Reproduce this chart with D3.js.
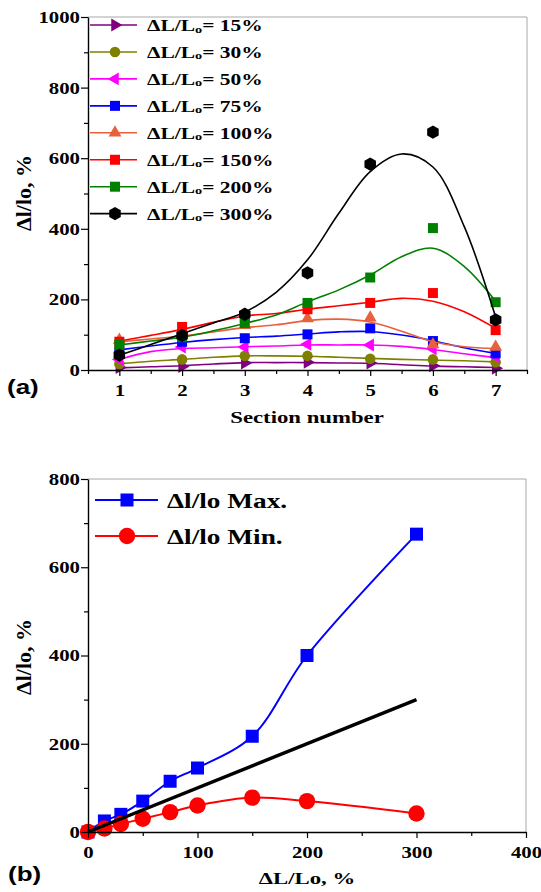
<!DOCTYPE html>
<html><head><meta charset="utf-8">
<script src="https://cdn.jsdelivr.net/npm/d3@7"></script>
<style>body{margin:0;background:#fff}</style>
</head><body>
<svg id="c" width="541" height="892" xmlns="http://www.w3.org/2000/svg"></svg>
<script>
// ---------- DATA (panel a) ----------
const sections = [1, 2, 3, 4, 5, 6, 7];
const seriesNames = ["15%", "30%", "50%", "75%", "100%", "150%", "200%", "300%"];
const seriesColors = ["#800080", "#808000", "#FF00FF", "#0000FF", "#E8603C", "#FF0000", "#008000", "#000000"];
const seriesSymbols = ["triRight", "circle", "triLeft", "square", "triUp", "square", "square", "hexagon"];
const v15  = [7, 10, 20, 22, 20, 12, 5];
const v30  = [17, 30, 40, 40, 32, 30, 22];
const v50  = [30, 65, 65, 73, 71, 60, 38];
const v75  = [52, 80, 90, 101, 118, 82, 47];
const v100 = [85, 97, 127, 146, 148, 72, 65];
const v150 = [80, 122, 148, 172, 190, 218, 113];
const v200 = [71, 93, 133, 190, 262, 402, 192];
const v300 = [42, 98, 158, 275, 583, 674, 142];
// fitted (smoothed) curves
const fitX   = [1, 1.5, 2, 2.5, 3, 3.5, 4, 4.5, 5, 5.5, 6, 6.5, 7];
const fit15  = [6, 9, 12, 17, 21, 21, 21, 20, 19, 15, 11, 9, 7];
const fit30  = [18, 25, 30, 36, 40, 40, 39, 36, 33, 30, 28, 26, 23];
const fit50  = [30, 52, 61, 63, 66, 68, 71, 71, 71, 67, 58, 46, 35];
const fit75  = [57, 68, 78, 86, 92, 96, 102, 108, 109, 99, 83, 63, 47];
const fit100 = [80, 88, 96, 108, 120, 128, 140, 144, 136, 110, 80, 66, 61];
const fit150 = [82, 98, 115, 135, 153, 160, 172, 182, 192, 203, 195, 165, 118];
const fit200 = [71, 82, 93, 111, 132, 156, 193, 227, 269, 321, 345, 293, 195];
const fit300 = [42, 72, 103, 133, 164, 220, 312, 444, 562, 612, 575, 406, 150];
const topYTicks = [0, 200, 400, 600, 800, 1000];
const topYMinor = [100, 300, 500, 700, 900];
const topXMinor = [0.5, 1.5, 2.5, 3.5, 4.5, 5.5, 6.5, 7.5];

// ---------- DATA (panel b) ----------
const elong = [0, 15, 30, 50, 75, 100, 150, 200, 300];
const maxVals = [0, 25, 40, 70, 115, 145, 217, 400, 675];
const minVals = [0, 8, 18, 30, 45, 60, 78, 70, 42];
const refX = [0, 300];
const refY = [0, 300];
const botXTicks = [0, 100, 200, 300, 400];
const botXMinor = [50, 150, 250, 350];
const botYTicks = [0, 200, 400, 600, 800];
const botYMinor = [100, 300, 500, 700];

const seriesVals = [v15, v30, v50, v75, v100, v150, v200, v300];
const seriesFits = [fit15, fit30, fit50, fit75, fit100, fit150, fit200, fit300];

// ---------- DRAW ----------
const svg = d3.select("#c");
const SERIF = "'Liberation Serif','Times New Roman',serif";
const SX = 1.3;
const plain = d => String(d);

const hexagon = { draw(ctx, size) {
  const r = Math.sqrt(size / (1.5 * Math.sqrt(3)));
  for (let i = 0; i < 6; i++) {
    const a = Math.PI / 2 + i * Math.PI / 3;
    const px = r * Math.cos(a), py = r * Math.sin(a);
    if (i === 0) ctx.moveTo(px, py); else ctx.lineTo(px, py);
  }
  ctx.closePath();
}};
function marker(g, type, x, y, color, scale) {
  const s = scale || 1;
  let t, size, rot = 0;
  if (type === "square") { t = d3.symbolSquare; size = 100 * s * s; }
  else if (type === "circle") { t = d3.symbolCircle; size = 88 * s * s; }
  else if (type === "hexagon") { t = hexagon; size = 115 * s * s; }
  else { t = d3.symbolTriangle; size = 72 * s * s;
    rot = type === "triRight" ? 90 : type === "triLeft" ? -90 : 0; }
  g.append("path").attr("d", d3.symbol(t, size)())
    .attr("transform", `translate(${x},${y}) rotate(${rot})`)
    .attr("fill", color);
}
function stretchText(g, x, y, txt, size, anchor, family, weight) {
  return g.append("text").attr("transform", `translate(${x},${y}) scale(${SX},1)`)
    .attr("font-family", family || SERIF).attr("font-weight", weight || "bold")
    .attr("font-size", size).attr("text-anchor", anchor || "start").attr("fill", "#000").text(txt);
}
function styleAxis(g) {
  g.attr("font-family", SERIF);
  g.select(".domain").attr("stroke", "#000").attr("stroke-width", 1.4);
  g.selectAll(".tick line").attr("stroke", "#000").attr("stroke-width", 1.2);
}

// ===== Panel (a) =====
const xa = d3.scaleLinear().domain([0.5, 7.5]).range([88, 527]);
const ya = d3.scaleLinear().domain([0, 1000]).range([370, 17]);

svg.append("path").attr("d", `M${xa(0.5)},${ya(1000)}H${xa(7.5)}V${ya(0)}`)
  .attr("fill", "none").attr("stroke", "#a8a8a8").attr("stroke-width", 1);

const ga = svg.append("g");
seriesVals.forEach((vals, i) => {
  const col = seriesColors[i];
  const line = d3.line().x(d => xa(d[0])).y(d => ya(d[1])).curve(d3.curveCatmullRom.alpha(0.5));
  ga.append("path").attr("d", line(fitX.map((x, k) => [x, seriesFits[i][k]])))
    .attr("fill", "none").attr("stroke", col).attr("stroke-width", 1.6);
  vals.forEach((v, k) => marker(ga, seriesSymbols[i], xa(sections[k]), ya(v), col));
});

const axYa = svg.append("g").attr("transform", `translate(${xa(0.5)},0)`)
  .call(d3.axisLeft(ya).tickValues(topYTicks).tickFormat(plain).tickSize(7).tickSizeOuter(0).tickPadding(0));
axYa.append("g").call(d3.axisLeft(ya).tickValues(topYMinor).tickSize(4).tickFormat("")).select(".domain").remove();
axYa.selectAll(".tick text").attr("x", -8 / SX).attr("dy", "0.34em").attr("transform", `scale(${SX},1)`)
  .attr("font-family", SERIF).attr("font-weight", "bold").attr("font-size", 16).attr("fill", "#000");
styleAxis(axYa);

const axXa = svg.append("g").attr("transform", `translate(0,${ya(0)})`)
  .call(d3.axisBottom(xa).tickValues(sections).tickFormat(plain).tickSize(6).tickSizeOuter(0).tickPadding(0));
axXa.append("g").call(d3.axisBottom(xa).tickValues(topXMinor).tickSize(4).tickFormat("")).select(".domain").remove();
axXa.selectAll(".tick text").attr("y", 26).attr("dy", 0).attr("transform", `scale(${SX},1)`)
  .attr("font-family", SERIF).attr("font-weight", "bold").attr("font-size", 16).attr("fill", "#000");
styleAxis(axXa);

stretchText(svg, 307, 423, "Section number", 17.5, "middle");
svg.append("text").attr("transform", "translate(31,193) rotate(-90)")
  .attr("font-family", SERIF).attr("font-weight", "bold").attr("font-size", 22)
  .attr("text-anchor", "middle").text("Δl/lo, %");
stretchText(svg, 7, 394, "(a)", 20, "start", "'Liberation Sans',Arial,sans-serif");

seriesNames.forEach((n, i) => {
  const y = 25 + i * 26.95;
  const col = seriesColors[i];
  svg.append("line").attr("x1", 90).attr("x2", 137).attr("y1", y).attr("y2", y)
    .attr("stroke", col).attr("stroke-width", 1.6);
  marker(svg, seriesSymbols[i], 115, y, col);
  const t = stretchText(svg, 147, y + 6, "", 16.5, "start");
  t.append("tspan").text("ΔL/L");
  t.append("tspan").attr("font-size", 11).attr("dy", 1.5).text("o");
  t.append("tspan").attr("dy", -1.5).text("= " + n);
});

// ===== Panel (b) =====
const xb = d3.scaleLinear().domain([0, 400]).range([88, 526]);
const yb = d3.scaleLinear().domain([0, 800]).range([832, 479]);

svg.append("path").attr("d", `M${xb(0)},${yb(800)}H${xb(400)}V${yb(0)}`)
  .attr("fill", "none").attr("stroke", "#a8a8a8").attr("stroke-width", 1);

const gb = svg.append("g");
const lineB = d3.line().x(d => xb(d[0])).y(d => yb(d[1])).curve(d3.curveCatmullRom.alpha(0.5));
gb.append("path").attr("d", lineB(elong.map((x, k) => [x, maxVals[k]])))
  .attr("fill", "none").attr("stroke", "#0000FF").attr("stroke-width", 2);
elong.forEach((x, k) => marker(gb, "square", xb(x), yb(maxVals[k]), "#0000FF", 1.3));
gb.append("path").attr("d", lineB(elong.map((x, k) => [x, minVals[k]])))
  .attr("fill", "none").attr("stroke", "#FF0000").attr("stroke-width", 2);
elong.forEach((x, k) => marker(gb, "circle", xb(x), yb(minVals[k]), "#FF0000", 1.55));
gb.append("path").attr("d", d3.line().x(d => xb(d[0])).y(d => yb(d[1]))(refX.map((x, k) => [x, refY[k]])))
  .attr("fill", "none").attr("stroke", "#000").attr("stroke-width", 3.5);

const axYb = svg.append("g").attr("transform", `translate(${xb(0)},0)`)
  .call(d3.axisLeft(yb).tickValues(botYTicks).tickFormat(plain).tickSize(7).tickSizeOuter(0).tickPadding(0));
axYb.append("g").call(d3.axisLeft(yb).tickValues(botYMinor).tickSize(4).tickFormat("")).select(".domain").remove();
axYb.selectAll(".tick text").attr("x", -8 / SX).attr("dy", "0.34em").attr("transform", `scale(${SX},1)`)
  .attr("font-family", SERIF).attr("font-weight", "bold").attr("font-size", 16).attr("fill", "#000");
styleAxis(axYb);

const axXb = svg.append("g").attr("transform", `translate(0,${yb(0)})`)
  .call(d3.axisBottom(xb).tickValues(botXTicks).tickFormat(plain).tickSize(6).tickSizeOuter(0).tickPadding(0));
axXb.append("g").call(d3.axisBottom(xb).tickValues(botXMinor).tickSize(4).tickFormat("")).select(".domain").remove();
axXb.selectAll(".tick text").attr("y", 26).attr("dy", 0).attr("transform", `scale(${SX},1)`)
  .attr("font-family", SERIF).attr("font-weight", "bold").attr("font-size", 16).attr("fill", "#000");
styleAxis(axXb);

stretchText(svg, 307, 884, "ΔL/Lo, %", 17.5, "middle");
svg.append("text").attr("transform", "translate(31,657) rotate(-90)")
  .attr("font-family", SERIF).attr("font-weight", "bold").attr("font-size", 22)
  .attr("text-anchor", "middle").text("Δl/lo, %");
stretchText(svg, 8, 881, "(b)", 20, "start", "'Liberation Sans',Arial,sans-serif");

const legB = [["Δl/lo Max.", "#0000FF", "square", 1.3], ["Δl/lo Min.", "#FF0000", "circle", 1.55]];
legB.forEach((d, i) => {
  const y = 500 + i * 36;
  svg.append("line").attr("x1", 95).attr("x2", 158).attr("y1", y).attr("y2", y)
    .attr("stroke", d[1]).attr("stroke-width", 2);
  marker(svg, d[2], 127, y, d[1], d[3]);
  stretchText(svg, 167, y + 7.5, d[0], 21, "start");
});
</script>
</body></html>
